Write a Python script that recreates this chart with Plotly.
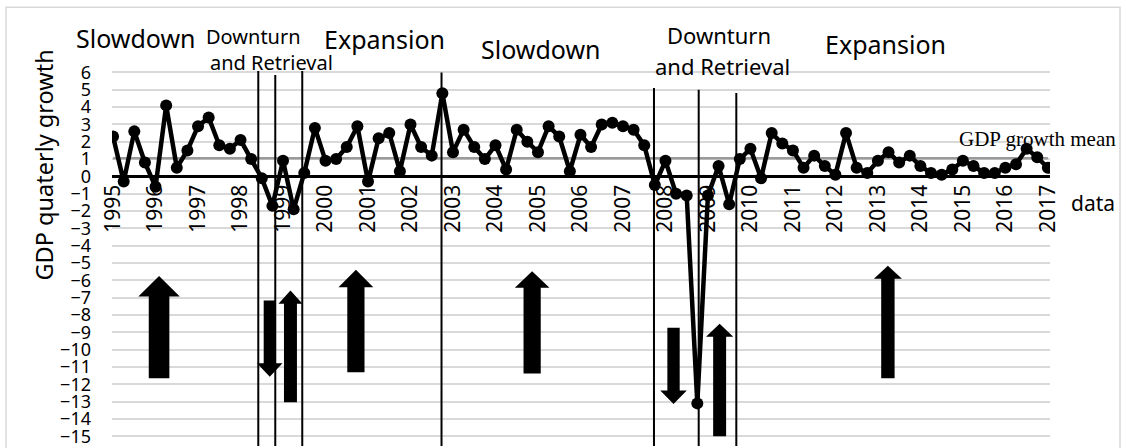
import plotly.graph_objects as go

# ---------------- data ----------------
years = [str(y) for y in range(1995, 2018)]
# quarterly GDP growth, 1995Q1 .. 2017Q1 (89 quarters)
gdp_growth = [
    2.3, -0.3, 2.6, 0.8, -0.6, 4.1, 0.5, 1.5, 2.9, 3.4,
    1.8, 1.6, 2.1, 1.0, -0.1, -1.7, 0.9, -1.9, 0.2, 2.8,
    0.9, 1.0, 1.7, 2.9, -0.3, 2.2, 2.5, 0.3, 3.0, 1.7,
    1.2, 4.8, 1.4, 2.7, 1.7, 1.0, 1.8, 0.4, 2.7, 2.0,
    1.4, 2.9, 2.3, 0.3, 2.4, 1.7, 3.0, 3.1, 2.9, 2.7,
    1.8, -0.5, 0.9, -1.0, -1.1, -13.1, -1.1, 0.6, -1.6, 1.0,
    1.6, -0.1, 2.5, 1.9, 1.5, 0.5, 1.2, 0.6, 0.1, 2.5,
    0.5, 0.2, 0.9, 1.4, 0.8, 1.2, 0.6, 0.2, 0.1, 0.4,
    0.9, 0.6, 0.2, 0.2, 0.5, 0.7, 1.6, 1.1, 0.5,
]
quarters = list(range(len(gdp_growth)))
gdp_mean = sum(gdp_growth) / len(gdp_growth)
mean_series = [gdp_mean] * len(gdp_growth)
y_ticks = list(range(-15, 7))

# phase boundaries (in quarter index) and their top values
phase_lines_x = [13.67, 15.27, 17.81, 30.92, 50.92, 55.13, 58.67]
phase_lines_top = [6.08, 5.86, 6.08, 6.0, 5.11, 5.0, 4.82]

# arrows: centre (quarter idx), tail, head-base, tip (values)
arrow_cx = [4.33, 14.75, 16.7, 22.86, 39.45, 52.76, 57.1, 72.94]
arrow_tail = [-11.65, -7.16, -13.03, -11.31, -11.37, -8.73, -15.0, -11.65]
arrow_headbase = [-6.93, -10.79, -7.35, -6.39, -6.43, -12.36, -9.26, -5.91]
arrow_tip = [-5.75, -11.56, -6.58, -5.38, -5.47, -13.13, -8.5, -5.15]
arrow_shaft_hw = [0.97, 0.57, 0.61, 0.81, 0.81, 0.58, 0.61, 0.63]
arrow_head_hw = [1.95, 1.2, 1.13, 1.64, 1.63, 1.25, 1.28, 1.32]

# ---------------- layout geometry ----------------
W, H = 1126, 448
ML, MR, MT, MB = 112, 76, 69, 0
Y_MIN, Y_MAX = -15.56, 6.2
X_MIN, X_MAX = -0.1, 88.2
PW, PH = W - ML - MR, H - MT - MB


def px(xp):
    return (xp - ML) / PW


def py(yp):
    return (H - MB - yp) / PH


zero_pos = (0 - Y_MIN) / (Y_MAX - Y_MIN)

FONT = "Noto Sans"

fig = go.Figure()

fig.add_trace(go.Scatter(
    x=quarters, y=mean_series, mode="lines",
    line=dict(color="#9a9a9a", width=2.5), name="GDP growth mean",
    hoverinfo="skip", showlegend=False,
))
fig.add_trace(go.Scatter(
    x=quarters, y=gdp_growth, mode="lines+markers",
    line=dict(color="black", width=4.5),
    marker=dict(size=12, color="black"),
    name="GDP", showlegend=False,
))

shapes = []
# outer chart border
shapes.append(dict(type="rect", xref="paper", yref="paper",
                   x0=px(6), x1=px(1120), y0=py(460), y1=py(7),
                   line=dict(color="#d9d9d9", width=1.5), layer="below"))
for xv, top in zip(phase_lines_x, phase_lines_top):
    shapes.append(dict(type="line", xref="x", yref="y",
                       x0=xv, x1=xv, y0=Y_MIN, y1=top,
                       line=dict(color="black", width=2), layer="above"))


def arrow_path(cx, tail, hb, tip, sw, hw):
    pts = [(cx - sw, tail), (cx - sw, hb), (cx - hw, hb), (cx, tip),
           (cx + hw, hb), (cx + sw, hb), (cx + sw, tail)]
    return "M " + " L ".join(f"{a},{b}" for a, b in pts) + " Z"


for cx, t, hb, tp, sw, hw in zip(arrow_cx, arrow_tail, arrow_headbase,
                                 arrow_tip, arrow_shaft_hw, arrow_head_hw):
    shapes.append(dict(type="path", xref="x", yref="y",
                       path=arrow_path(cx, t, hb, tp, sw, hw),
                       fillcolor="black", line=dict(color="black", width=0),
                       layer="above"))

labels = [
    ("Slowdown", 136, 38, 25, FONT),
    ("Downturn", 253, 36, 20, FONT),
    ("and Retrieval", 271, 62, 20, FONT),
    ("Expansion", 384, 39, 25, FONT),
    ("Slowdown", 541, 49, 25, FONT),
    ("Downturn", 719, 35, 22, FONT),
    ("and Retrieval", 722, 66, 22, FONT),
    ("Expansion", 885, 44, 25, FONT),
    ("GDP growth mean", 1037, 139, 21, "Liberation Serif"),
    ("data", 1093, 204, 21, FONT),
]
annotations = []
for text, xp, yp, size, fam in labels:
    annotations.append(dict(text=text, xref="paper", yref="paper",
                            x=px(xp), y=py(yp), xanchor="center",
                            yanchor="middle", showarrow=False,
                            font=dict(family=fam, size=size, color="black")))
annotations.append(dict(text="GDP quaterly growth", xref="paper", yref="paper",
                        x=px(44), y=py(166), xanchor="center", yanchor="middle",
                        textangle=-90, showarrow=False,
                        font=dict(family=FONT, size=23.5, color="black")))

fig.update_layout(
    width=W, height=H,
    margin=dict(l=ML, r=MR, t=MT, b=MB, pad=0),
    paper_bgcolor="white", plot_bgcolor="white",
    shapes=shapes, annotations=annotations,
    showlegend=False,
    xaxis=dict(
        range=[X_MIN, X_MAX], showgrid=False, zeroline=False,
        tickvals=quarters[::4], ticktext=years, tickangle=-90,
        anchor="free", position=zero_pos, showline=False, ticks="",
        ticklabelstandoff=3,
        tickfont=dict(family=FONT, size=21, color="black"),
    ),
    yaxis=dict(
        range=[Y_MIN, Y_MAX], tickvals=y_ticks,
        showgrid=True, gridcolor="#d9d9d9", gridwidth=2,
        zeroline=True, zerolinecolor="black", zerolinewidth=2.5,
        showline=False, ticks="", ticklabelstandoff=20,
        ticklabeloverflow="allow",
        tickfont=dict(family=FONT, size=18, color="black"),
    ),
)

fig.write_html(
    "out.html",
    config={"displayModeBar": False},
    post_script="document.body.style.margin='0';document.body.style.overflow='hidden';",
)
